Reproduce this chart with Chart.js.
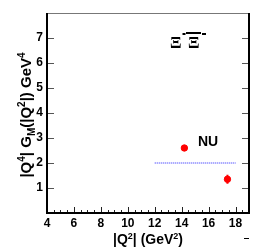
<!DOCTYPE html>
<html>
<head>
<meta charset="utf-8">
<script src="https://cdn.jsdelivr.net/npm/chart.js@4"></script>
<style>
  html, body { margin: 0; padding: 0; background: #fff; }
</style>
</head>
<body>
<canvas id="c" width="263" height="251"></canvas>
<script>
// values
const pointX = [14.2, 17.4];
const pointY = [2.6, 1.35];
const pointErr = [0, 0.18];
const lineX = [12, 18];
const lineY = [2, 2];
const xTickLabels = [4, 6, 8, 10, 12, 14, 16, 18];
const yTickLabels = [1, 2, 3, 4, 5, 6, 7];
const xMinorStep = 0.5;

const FONT = "'Liberation Sans', Arial, sans-serif";

// draw runs of text: [text, dy, size]
function drawRuns(ctx, runs, x, y) {
    let cx = x;
    runs.forEach(r => {
        ctx.font = 'bold ' + r[2] + 'px ' + FONT;
        ctx.fillText(r[0], cx, y + r[1]);
        cx += ctx.measureText(r[0]).width;
    });
}
function runsWidth(ctx, runs) {
    let w = 0;
    runs.forEach(r => {
        ctx.font = 'bold ' + r[2] + 'px ' + FONT;
        w += ctx.measureText(r[0]).width;
    });
    return w;
}

const decor = {
    id: 'decor',
    afterDraw(chart) {
        const ctx = chart.ctx;
        const xs = chart.scales.x, ys = chart.scales.y;
        const a = chart.chartArea;
        ctx.save();

        // error bars
        ctx.fillStyle = '#ff0000';
        pointX.forEach((x, i) => {
            if (!pointErr[i]) return;
            const px = xs.getPixelForValue(x);
            const y1 = ys.getPixelForValue(pointY[i] + pointErr[i]);
            const y2 = ys.getPixelForValue(pointY[i] - pointErr[i]);
            ctx.fillRect(px - 1, y1, 2, y2 - y1);
        });

        // inward ticks (ROOT style)
        ctx.fillStyle = '#222';
        const bottom = Math.round(a.bottom);
        for (let k = 1; 4 + k * xMinorStep < 19; k++) {
            const v = 4 + k * xMinorStep;
            const px = Math.round(xs.getPixelForValue(v));
            const len = (k % 4 === 0) ? 6 : 3;
            ctx.fillRect(px, bottom - len, 1, len);
        }
        ctx.fillStyle = '#555';
        yTickLabels.forEach(v => {
            const py = Math.round(ys.getPixelForValue(v));
            ctx.fillRect(Math.round(a.left), py, 7, 1);
            ctx.fillRect(Math.round(a.right) - 7, py, 7, 1);
        });

        // frame
        ctx.fillStyle = '#777';
        ctx.fillRect(a.left, Math.round(a.top), a.right - a.left, 1);
        ctx.fillStyle = '#000';
        ctx.fillRect(Math.round(a.left) - 1, a.top, 2, a.bottom - a.top + 1);
        ctx.fillRect(Math.round(a.right) - 1, a.top, 2, a.bottom - a.top + 1);
        ctx.fillRect(a.left - 1, bottom - 1, a.right - a.left + 2, 2);

        ctx.textBaseline = 'alphabetic';
        ctx.textAlign = 'left';

        // x title
        const xt = [['|Q', 0, 14], ['2', -5, 9], ['| (GeV', 0, 14], ['2', -5, 9], [')', 0, 14]];
        const xw = runsWidth(ctx, xt);
        drawRuns(ctx, xt, 148 - xw / 2, 244);

        // y title (rotated)
        ctx.save();
        ctx.translate(31, 115);
        ctx.rotate(-Math.PI / 2);
        const yt = [['|Q', 0, 15], ['4', -6, 10], ['| G', 0, 15], ['M', 4, 10], ['(|Q', 0, 15], ['2', -6, 10], ['|) GeV', 0, 15], ['4', -6, 10]];
        const yw = runsWidth(ctx, yt);
        drawRuns(ctx, yt, -yw / 2, 0);
        ctx.restore();

        // NU label
        ctx.font = 'bold 14px ' + FONT;
        ctx.fillText('NU', 198, 146);

        // Xi label
        ctx.font = 'bold 17px "Liberation Serif", serif';
        ctx.fillText('\u039E', 170, 48);
        const w1 = ctx.measureText('\u039E').width;
        ctx.fillText('\u039E', 188, 48);
        ctx.fillRect(170 + w1 + 1, 33, 3, 2);
        ctx.fillRect(186, 32, 15, 2);
        ctx.fillRect(202, 33, 4, 2);

        // stray mark at the bottom right
        ctx.fillRect(244, 238, 5, 1);

        ctx.restore();
    }
};

new Chart(document.getElementById('c'), {
    type: 'scatter',
    data: {
        datasets: [
            {
                data: pointX.map((x, i) => ({ x, y: pointY[i] })),
                backgroundColor: '#ff0000',
                borderColor: '#ff0000',
                pointRadius: 3.2,
                order: 1
            },
            {
                type: 'line',
                data: lineX.map((x, i) => ({ x, y: lineY[i] })),
                borderColor: '#2020ff',
                borderWidth: 1,
                borderDash: [1, 1],
                pointRadius: 0,
                order: 2
            }
        ]
    },
    options: {
        responsive: false,
        animation: false,
        layout: { padding: { top: 13, right: 14, left: 0, bottom: 0 } },
        plugins: { legend: { display: false }, tooltip: { enabled: false } },
        scales: {
            x: {
                type: 'linear', min: 4, max: 19,
                afterFit(s) { s.height = 38; },
                afterBuildTicks(s) { s.ticks = xTickLabels.map(v => ({ value: v })); },
                grid: { display: false, drawTicks: false },
                border: { display: false },
                ticks: { padding: 3, color: '#000', font: { family: FONT, size: 12, weight: 'bold' }, maxRotation: 0 }
            },
            y: {
                type: 'linear', min: 0, max: 8,
                afterFit(s) { s.width = 47; },
                afterBuildTicks(s) { s.ticks = yTickLabels.map(v => ({ value: v })); },
                grid: { display: false, drawTicks: false },
                border: { display: false },
                ticks: { padding: 4, color: '#000', font: { family: FONT, size: 12, weight: 'bold' } }
            }
        }
    },
    plugins: [decor]
});
</script>
</body>
</html>
